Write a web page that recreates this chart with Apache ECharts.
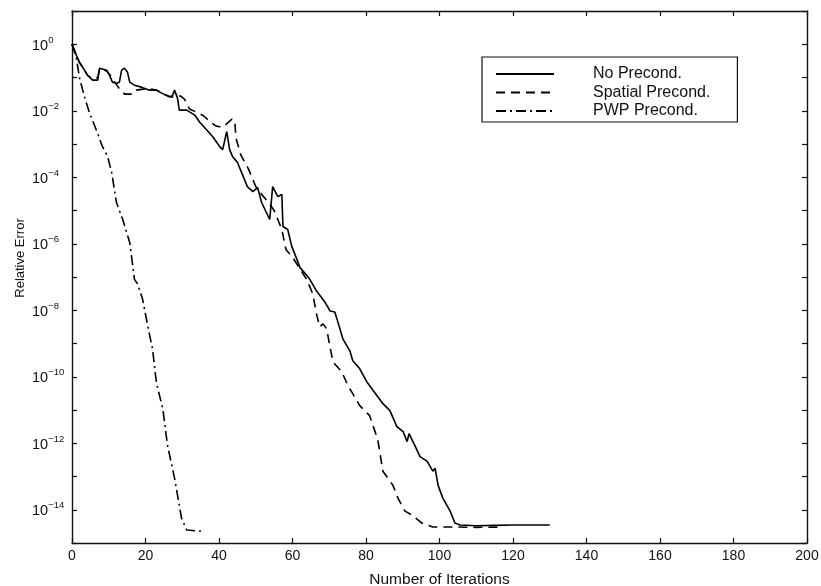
<!DOCTYPE html>
<html>
<head>
<meta charset="utf-8">
<script src="https://cdn.jsdelivr.net/npm/echarts@6/dist/echarts.min.js"></script>
<style>
html,body{margin:0;padding:0;background:#fff;}
#chart{width:821px;height:586px;}
</style>
</head>
<body>
<div id="chart"></div>
<script>
// ---- data (y stored as log10 of relative error) ----
const seriesNames = ['No Precond.', 'Spatial Precond.', 'PWP Precond.'];
const xTicks = [0, 20, 40, 60, 80, 100, 120, 140, 160, 180, 200];
const yTickExponents = [0, -2, -4, -6, -8, -10, -12, -14];

const noPrecondIter = [0, 1.2, 2, 3.4, 4.2, 5.6, 7, 7.5, 9.4, 10.2, 11, 12.1, 12.9, 13.5, 14.3, 15.1, 15.7, 17, 18.9, 21.1, 23, 24.4, 26.6, 27.4, 27.9, 28.7, 29.2, 31.2, 33.4, 34.7, 36.6, 38.3, 40.2, 41, 42.1, 42.9, 43.7, 45, 46.3, 47.7, 49.2, 50.5, 51.6, 53.8, 54.6, 56, 57.1, 57.4, 58.7, 59.8, 61.2, 62, 63.5, 64.7, 66.6, 68.8, 70.2, 71.5, 72.1, 73.7, 75.6, 76.4, 78.3, 80.2, 83, 84.6, 86.5, 88.4, 90.1, 91.2, 91.7, 93.3, 94.7, 96.6, 98.2, 98.8, 99.6, 100.9, 102.9, 104.2, 105.6, 110, 115, 120, 125, 130];
const noPrecondLogErr = [0, -0.33, -0.54, -0.78, -0.93, -1.08, -1.08, -0.72, -0.78, -0.93, -1.14, -1.17, -1.14, -0.78, -0.72, -0.84, -1.14, -1.23, -1.29, -1.38, -1.38, -1.47, -1.59, -1.53, -1.38, -1.62, -1.98, -1.98, -2.13, -2.34, -2.57, -2.78, -3.08, -3.17, -2.63, -3.17, -3.38, -3.55, -3.9, -4.28, -4.43, -4.31, -4.76, -5.27, -4.28, -4.58, -4.52, -5.48, -5.57, -6.08, -6.47, -6.71, -6.9, -7.07, -7.43, -7.75, -8.02, -8.05, -8.26, -8.86, -9.22, -9.52, -9.76, -10.15, -10.57, -10.81, -11.02, -11.5, -11.65, -11.95, -11.71, -12.07, -12.4, -12.54, -12.84, -12.75, -13.26, -13.65, -14.04, -14.4, -14.46, -14.48, -14.47, -14.46, -14.46, -14.46];

const spatialIter = [0, 1.2, 2, 3.4, 4.2, 5.6, 7, 7.5, 9.4, 10.5, 12, 13, 14.3, 16.4, 17.5, 20.6, 23, 24.4, 26.6, 28, 29.5, 30.6, 32, 34, 35.8, 37.8, 39, 40.9, 42, 43.5, 44.3, 44.6, 45.9, 48.1, 50, 51.5, 53.5, 55, 57.1, 58.2, 60, 62, 64, 65.5, 66.6, 67.4, 68.3, 69.3, 70.2, 71, 73.4, 75.1, 76.4, 78.3, 81, 83.2, 84.6, 87.3, 88.7, 90.6, 92.5, 95.2, 98.2, 105, 110, 116.5];
const spatialLogErr = [0, -0.33, -0.54, -0.78, -0.93, -1.05, -1.0, -0.75, -0.8, -0.95, -1.2, -1.35, -1.5, -1.5, -1.38, -1.33, -1.38, -1.47, -1.57, -1.6, -1.55, -1.65, -1.95, -2.05, -2.15, -2.35, -2.45, -2.5, -2.4, -2.25, -2.3, -2.81, -3.32, -3.77, -4.28, -4.5, -4.76, -5.0, -5.57, -6.17, -6.4, -6.75, -7.1, -7.51, -8.14, -8.5, -8.41, -8.56, -9.1, -9.55, -9.85, -10.27, -10.51, -10.87, -11.17, -11.89, -12.84, -13.26, -13.65, -14.04, -14.16, -14.4, -14.52, -14.52, -14.53, -14.52];

const pwpIter = [0, 1.2, 2, 3.4, 4.8, 6.9, 8.3, 9.7, 10.8, 12.1, 13.8, 15.7, 17, 17.8, 19.2, 20.6, 21.9, 23, 24.7, 26, 27.9, 29.8, 31.2, 34.7, 36.1];
const pwpLogErr = [0, -0.42, -0.99, -1.59, -2.07, -2.66, -3.08, -3.38, -3.86, -4.76, -5.27, -5.96, -7.07, -7.2, -7.66, -8.47, -9.16, -10.2, -10.96, -12.07, -13.05, -14.25, -14.61, -14.64, -14.64];

// ---- build ----
function pairs(xs, ys) { return xs.map((x, i) => [x, ys[i]]); }
const FONT = 'Liberation Sans, Arial, Helvetica, sans-serif';
const INK = '#111';

const chart = echarts.init(document.getElementById('chart'), null, {renderer: 'canvas'});
const axisLine = {show: true, onZero: false, lineStyle: {color: INK, width: 1.4}};
const tickIn = {show: true, inside: true, length: 5, lineStyle: {color: INK, width: 1.2}};

chart.setOption({
  animation: false,
  backgroundColor: '#fff',
  grid: {left: 72, right: 14, top: 11, bottom: 43, containLabel: false, outerBoundsMode: 'none'},
  legend: {
    data: seriesNames,
    orient: 'vertical',
    left: 482, top: 57,
    padding: [9, 27, 3, 13],
    itemWidth: 58, itemHeight: 14, itemGap: 2.5,
    borderColor: INK, borderWidth: 1.2, backgroundColor: '#fff',
    itemStyle: {opacity: 0},
    textStyle: {fontFamily: FONT, fontSize: 16, lineHeight: 16, color: INK, padding: [0, 0, 0, 34]}
  },
  xAxis: [{
    type: 'value', min: 0, max: 200, interval: 20, position: 'bottom',
    name: 'Number of Iterations', nameLocation: 'middle', nameGap: 29,
    nameTextStyle: {fontFamily: FONT, fontSize: 15.5, color: INK},
    axisLine: axisLine, axisTick: tickIn, splitLine: {show: false},
    axisLabel: {fontFamily: FONT, fontSize: 14, color: INK, margin: 6,
      formatter: v => xTicks.indexOf(v) >= 0 ? String(v) : ''}
  }, {
    type: 'value', min: 0, max: 200, interval: 20, position: 'top',
    axisLine: axisLine, axisTick: tickIn, axisLabel: {show: false}, splitLine: {show: false}
  }],
  yAxis: [{
    type: 'value', min: -15, max: 1, interval: 1, position: 'left',
    name: 'Relative Error', nameLocation: 'middle', nameGap: 45, nameMoveOverlap: false,
    nameTextStyle: {fontFamily: FONT, fontSize: 13, color: INK, padding: [0, 0, 0, 38]},
    axisLine: axisLine, axisTick: tickIn, splitLine: {show: false},
    axisLabel: {
      align: 'left', margin: 40,
      formatter: v => yTickExponents.indexOf(v) >= 0 ? '{b|10}{s|' + (v === 0 ? '0' : '\u2212' + (-v)) + '}' : '',
      rich: {
        b: {fontFamily: FONT, fontSize: 14.5, color: INK, lineHeight: 18, verticalAlign: 'bottom'},
        s: {fontFamily: FONT, fontSize: 9.5, color: INK, lineHeight: 18, verticalAlign: 'top'}
      }
    }
  }, {
    type: 'value', min: -15, max: 1, interval: 1, position: 'right',
    axisLine: axisLine, axisTick: tickIn, axisLabel: {show: false}, splitLine: {show: false}
  }],
  series: [{
    name: seriesNames[0], type: 'line', symbol: 'none', xAxisIndex: 0, yAxisIndex: 0,
    data: pairs(noPrecondIter, noPrecondLogErr),
    lineStyle: {color: '#000', width: 1.6, type: 'solid'}, itemStyle: {color: '#000'}
  }, {
    name: seriesNames[1], type: 'line', symbol: 'none', xAxisIndex: 0, yAxisIndex: 0,
    data: pairs(spatialIter, spatialLogErr),
    lineStyle: {color: '#000', width: 1.6, type: [9, 6]}, itemStyle: {color: '#000'}
  }, {
    name: seriesNames[2], type: 'line', symbol: 'none', xAxisIndex: 0, yAxisIndex: 0,
    data: pairs(pwpIter, pwpLogErr),
    lineStyle: {color: '#000', width: 1.6, type: [10, 4, 2, 4]}, itemStyle: {color: '#000'}
  }]
});
</script>
</body>
</html>
